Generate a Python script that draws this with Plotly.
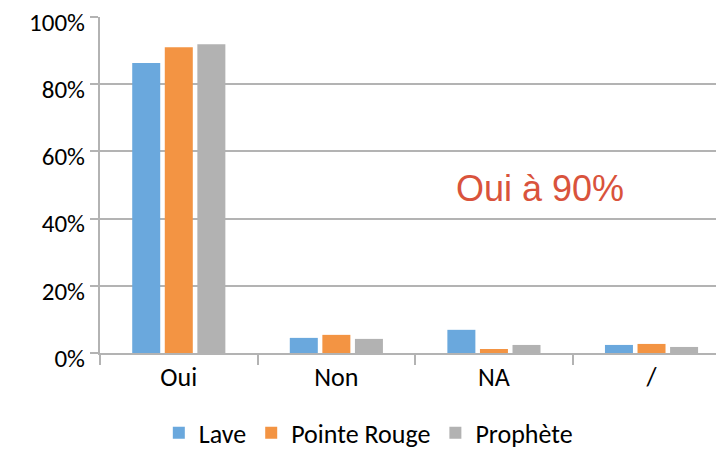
import plotly.graph_objects as go

categories = ["Oui", "Non", "NA", "/"]
lave = [0.863, 0.045, 0.069, 0.024]
pointe_rouge = [0.910, 0.054, 0.012, 0.027]
prophete = [0.919, 0.042, 0.024, 0.018]
y_ticks = [0, 0.2, 0.4, 0.6, 0.8, 1.0]
y_tick_labels = ["0%", "20%", "40%", "60%", "80%", "100%"]

font_family = "Carlito, Lato, sans-serif"

fig = go.Figure()
fig.add_trace(go.Bar(name="Lave", x=categories, y=lave,
                     marker=dict(color="#6aa8dd", line=dict(width=0))))
fig.add_trace(go.Bar(name="Pointe Rouge", x=categories, y=pointe_rouge,
                     marker=dict(color="#f39443", line=dict(width=0))))
fig.add_trace(go.Bar(name="Prophète", x=categories, y=prophete,
                     marker=dict(color="#b2b2b2", line=dict(width=0))))

fig.update_layout(
    width=724, height=450,
    margin=dict(l=92, r=8, t=9, b=105, autoexpand=False),
    paper_bgcolor="white", plot_bgcolor="white",
    barmode="group", bargap=0.38, bargroupgap=0.14,
    font=dict(family=font_family, size=26, color="#000000"),
    showlegend=True,
    legend=dict(orientation="h", x=0.43, xanchor="center", y=-0.168, yanchor="top",
                font=dict(size=26), traceorder="normal", itemsizing="constant",
                itemwidth=30),
    xaxis=dict(range=[-0.5, 3.46], showline=True, linecolor="#b3b3b3", linewidth=2,
               ticks="outside", tickson="boundaries", ticklen=10, tickcolor="#b3b3b3",
               tickwidth=2, showgrid=False, tickfont=dict(size=26), automargin=False),
    yaxis=dict(range=[0, 1], tickvals=y_ticks, ticktext=y_tick_labels,
               showline=True, linecolor="#b3b3b3", linewidth=2,
               ticks="outside", ticklen=8, tickcolor="#b3b3b3", tickwidth=2,
               showgrid=True, gridcolor="#b3b3b3", gridwidth=2, zeroline=False,
               tickfont=dict(size=25), automargin=False, ticklabelshift=5,
               ticklabeloverflow="allow"),
    annotations=[dict(text="Oui à 90%", xref="paper", yref="y", x=0.705, y=0.49,
                      xanchor="center", yanchor="middle", showarrow=False,
                      font=dict(family="Liberation Sans, Arial, sans-serif", size=36,
                                color="#d9533c"))],
)

fig.write_html("out.html")
